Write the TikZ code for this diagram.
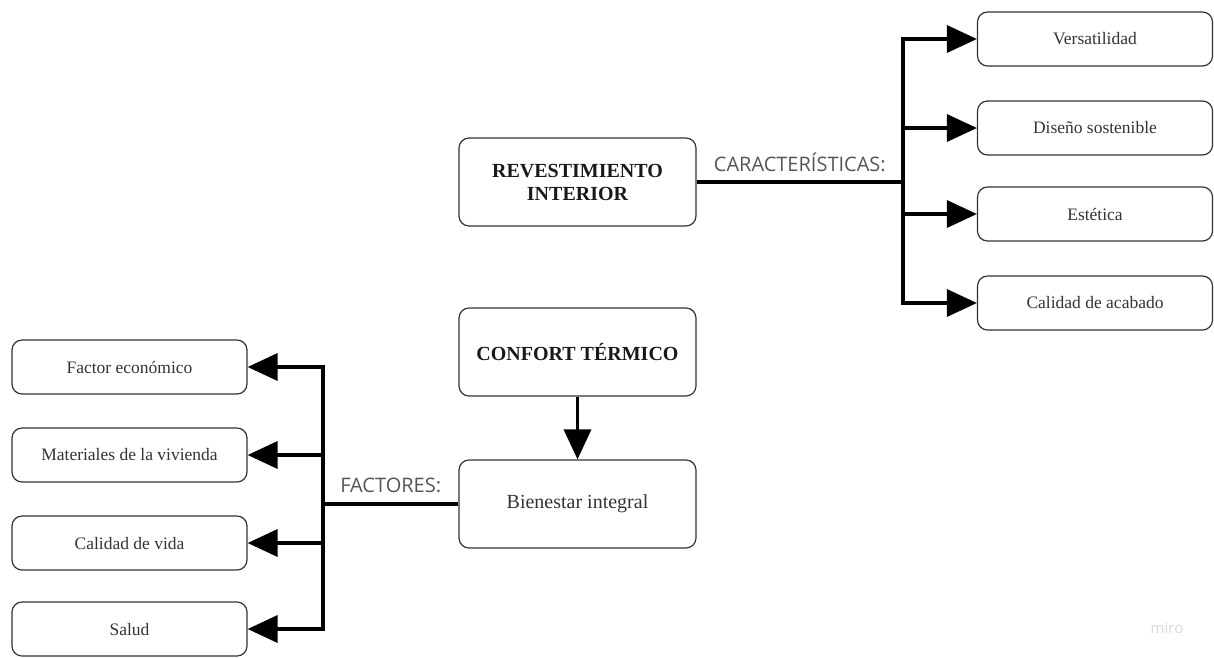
\documentclass[tikz,border=0pt]{standalone}
\usepackage{fontspec}
\setmainfont{Liberation Serif}
\newfontfamily\labelfont{Open Sans}
\usetikzlibrary{arrows.meta,positioning}
\usepackage{xcolor}
\definecolor{mdark}{HTML}{333333}
\definecolor{mlabel}{HTML}{555555}
\tikzstyle{box}=[draw=mdark, rounded corners=10pt, line width=1.2, minimum width=235pt, minimum height=54pt, inner sep=0pt, text=mdark, font=\fontsize{17.5}{20}\selectfont]
\tikzstyle{bigbox}=[box, minimum width=237pt, minimum height=88pt, align=center, text=black!90, font=\bfseries\fontsize{20}{23}\selectfont]
\tikzstyle{l1}=[line width=3.5]
\tikzstyle{arr}=[l1, -{Triangle[length=30pt,width=27pt]}]
\tikzstyle{lbl}=[text=mlabel, font=\labelfont\fontsize{20}{22}\selectfont]

\begin{document}
\begin{tikzpicture}[x=1pt,y=-1pt]
    \useasboundingbox (0,0) rectangle (1214,657);

    \node[bigbox] (rev)  at (577.5,182) {REVESTIMIENTO\\INTERIOR};
    \node[bigbox] (conf) at (577.5,352) {CONFORT TÉRMICO};
    \node[bigbox, font=\fontsize{20}{23}\selectfont, text=mdark] (bien) at (577.5,504) {Bienestar integral};

    \node[box] (vers) at (1095,39)  {Versatilidad};
    \node[box] (dis)  at (1095,128) {Diseño sostenible};
    \node[box] (est)  at (1095,214) {Estética};
    \node[box] (cal)  at (1095,303) {Calidad de acabado};

    \node[box] (fac)  at (129.5,367) {Factor económico};
    \node[box] (mat)  at (129.5,455) {Materiales de la vivienda};
    \node[box] (cvid) at (129.5,543) {Calidad de vida};
    \node[box] (sal)  at (129.5,629) {Salud};

    % caracteristicas
    \coordinate (rt) at (903,182);
    \draw[l1] (rev) -- (rt) node[midway, above=5.5pt, lbl] {CARACTERÍSTICAS:};
    \draw[arr] (rt) |- (vers);
    \draw[arr] (rt) |- (cal);
    \draw[arr] (rt |- dis) -- (dis);
    \draw[arr] (rt |- est) -- (est);

    % factores
    \coordinate (lt) at (323,504);
    \draw[l1] (bien) -- (lt) node[midway, above=6.5pt, lbl] {FACTORES:};
    \draw[arr] (lt) |- (fac);
    \draw[arr] (lt) |- (sal);
    \draw[arr] (lt |- mat) -- (mat);
    \draw[arr] (lt |- cvid) -- (cvid);

    \draw[arr] (conf) -- (bien);

    \node[text=black!15, font=\labelfont\fontsize{15}{15}\selectfont] (miro) at (1167,628) {miro};
\end{tikzpicture}
\end{document}
